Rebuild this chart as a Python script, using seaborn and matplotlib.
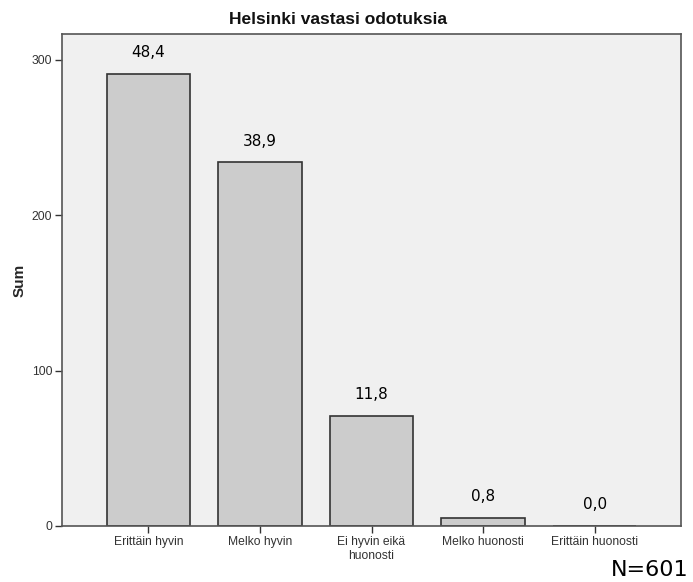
import matplotlib
matplotlib.use("Agg")
import matplotlib.pyplot as plt
import seaborn as sns
import pandas as pd

categories = ["Erittäin hyvin", "Melko hyvin", "Ei hyvin eikä\nhuonosti", "Melko huonosti", "Erittäin huonosti"]
sums = [291, 234, 71, 5, 0]
percent_labels = ["48,4", "38,9", "11,8", "0,8", "0,0"]
title = "Helsinki vastasi odotuksia"
n_text = "N=601"

sns.set_theme(style="white")
plt.rcParams['font.family'] = ['Liberation Sans', 'DejaVu Sans']

df = pd.DataFrame({"cat": categories, "sum": sums})

fig = plt.figure(figsize=(6.93, 5.82), dpi=100)
ax = fig.add_axes([62/693, 56/582, (681-62)/693, (526-34)/582])
ax.set_facecolor("#f0f0f0")

sns.barplot(data=df, x="cat", y="sum", ax=ax, color="#cccccc", saturation=1,
            width=0.75, edgecolor="#333333", linewidth=1.2)

ax.set_xlim(-0.775, 4.775)
ax.set_ylim(0, 316.7)
ax.set_yticks([0, 100, 200, 300])
ax.tick_params(axis="both", which="both", length=5, width=1, color="#333333",
               labelsize=8.7, labelcolor="#333333", direction="out", bottom=True, left=True, pad=2)
ax.set_xlabel("")
ax.set_ylabel("Sum", fontsize=11, fontweight="bold", labelpad=4)

for sp in ax.spines.values():
    sp.set_color("#555555")
    sp.set_linewidth(1.2)

ax.bar_label(ax.containers[0], labels=percent_labels, padding=10,
             fontsize=11, family=['DejaVu Sans'], color="#000000")

fig.text(338/693, 1 - 19/582, title, ha="center", va="center", fontsize=12.5,
         fontweight="bold", color="#111111")

fig.text(0.994, 0.003, n_text, ha="right", va="bottom", fontsize=16,
         family=['DejaVu Sans'], color="#000000")

fig.savefig("out.png", dpi=100)
